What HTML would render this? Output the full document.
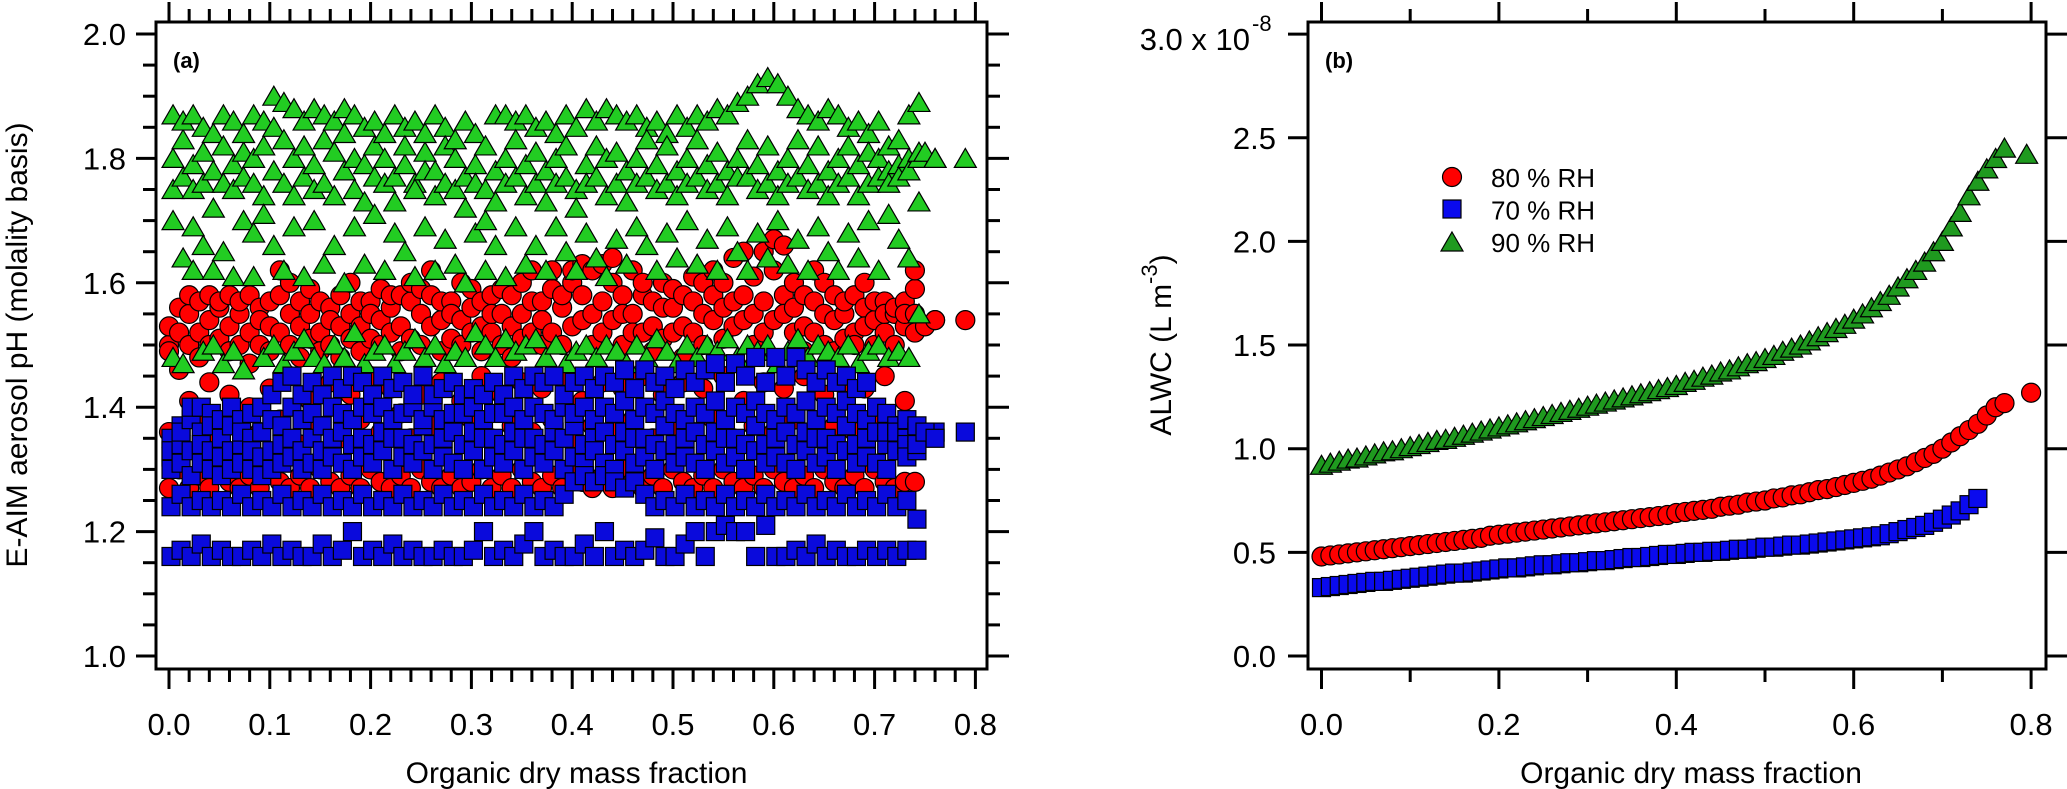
<!DOCTYPE html>
<html><head><meta charset="utf-8"><style>
html,body{margin:0;padding:0;background:#fff;}
svg{display:block;font-family:"Liberation Sans",Arial,sans-serif;}
</style></head><body>
<svg id="fig" width="2067" height="789" viewBox="0 0 2067 789" xmlns="http://www.w3.org/2000/svg">
<g id="pa"></g>
<g id="pb"></g>
</svg>
<script>
// ---------- Panel (a) data: per x-column (step 0.01) lists of pH values ----------
const aXStep = 0.01;
const aGreen = [
[1.75,1.8,1.87,1.7,1.48],[1.77,1.83,1.86,1.64,1.47],[1.79,1.75,1.87,1.69,1.62],[1.81,1.76,1.85,1.66,1.49],[1.78,1.84,1.72,1.62,1.5],
[1.76,1.82,1.87,1.65,1.47],[1.79,1.75,1.86,1.61,1.49],[1.81,1.77,1.84,1.7,1.46],[1.76,1.8,1.87,1.68,1.61],[1.74,1.82,1.86,1.71,1.48],
[1.78,1.9,1.85,1.66,1.5],[1.76,1.89,1.83,1.62,1.47],[1.8,1.88,1.74,1.69,1.49],[1.77,1.86,1.82,1.61,1.51],[1.79,1.88,1.75,1.7,1.48],
[1.76,1.87,1.83,1.63,1.47],[1.81,1.86,1.74,1.66,1.5],[1.78,1.84,1.88,1.6,1.48],[1.75,1.87,1.8,1.69,1.52],[1.79,1.85,1.73,1.63,1.47],
[1.77,1.86,1.82,1.71,1.49],[1.8,1.84,1.76,1.62,1.5],[1.77,1.87,1.73,1.68,1.47],[1.79,1.85,1.82,1.65,1.49],[1.76,1.86,1.75,1.61,1.51],
[1.81,1.84,1.78,1.69,1.48],[1.78,1.87,1.74,1.62,1.5],[1.76,1.85,1.82,1.67,1.47],[1.8,1.83,1.75,1.63,1.49],[1.77,1.86,1.72,1.6,1.48],
[1.79,1.84,1.76,1.68,1.52],[1.75,1.82,1.7,1.62,1.5],[1.78,1.87,1.73,1.66,1.48],[1.8,1.87,1.76,1.61,1.51],[1.77,1.86,1.83,1.69,1.49],
[1.79,1.87,1.74,1.63,1.5],[1.76,1.85,1.81,1.66,1.51],[1.78,1.86,1.73,1.62,1.48],[1.8,1.84,1.76,1.69,1.5],[1.77,1.87,1.82,1.65,1.47],
[1.75,1.85,1.72,1.62,1.49],[1.79,1.88,1.76,1.68,1.5],[1.77,1.86,1.82,1.64,1.48],[1.8,1.88,1.74,1.61,1.5],[1.76,1.87,1.81,1.67,1.49],
[1.78,1.86,1.73,1.63,1.47],[1.8,1.87,1.76,1.69,1.5],[1.77,1.85,1.83,1.66,1.48],[1.79,1.86,1.75,1.62,1.51],[1.76,1.84,1.82,1.68,1.49],
[1.78,1.87,1.74,1.64,1.47],[1.8,1.85,1.76,1.7,1.5],[1.77,1.87,1.83,1.63,1.48],[1.79,1.86,1.75,1.67,1.5],[1.76,1.88,1.81,1.62,1.49],
[1.78,1.87,1.74,1.69,1.51],[1.8,1.89,1.77,1.65,1.48],[1.77,1.9,1.83,1.62,1.5],[1.79,1.92,1.75,1.68,1.49],[1.76,1.93,1.82,1.64,1.5],
[1.78,1.92,1.74,1.7,1.47],[1.8,1.9,1.76,1.63,1.49],[1.77,1.88,1.83,1.67,1.51],[1.79,1.87,1.75,1.62,1.48],[1.76,1.86,1.82,1.69,1.5],
[1.78,1.88,1.74,1.65,1.49],[1.8,1.87,1.76,1.62,1.48],[1.77,1.85,1.82,1.68,1.5],[1.79,1.86,1.74,1.64,1.47],[1.76,1.84,1.81,1.7,1.49],
[1.8,1.86,1.77,1.62,1.5],[1.78,1.82,1.76,1.71,1.48],[1.79,1.77,1.83,1.67,1.49],[1.8,1.78,1.87,1.64,1.48],[1.8,1.81,1.89,1.73,1.55]
];
const aRed = [
[1.5,1.53,1.49,1.36,1.27],[1.52,1.56,1.46,1.33,1.3],[1.55,1.5,1.58,1.41,1.27],[1.57,1.52,1.48,1.38,1.29],[1.54,1.58,1.5,1.44,1.27],
[1.56,1.51,1.57,1.35,1.3],[1.58,1.53,1.49,1.42,1.28],[1.55,1.57,1.5,1.37,1.27],[1.52,1.58,1.47,1.4,1.29],[1.56,1.5,1.54,1.36,1.27],
[1.53,1.57,1.49,1.43,1.3],[1.58,1.52,1.62,1.38,1.28],[1.6,1.55,1.5,1.45,1.27],[1.57,1.53,1.48,1.34,1.29],[1.55,1.59,1.51,1.41,1.27],
[1.52,1.57,1.49,1.37,1.3],[1.56,1.5,1.54,1.44,1.28],[1.58,1.53,1.48,1.35,1.27],[1.55,1.6,1.51,1.42,1.29],[1.53,1.57,1.49,1.38,1.27],
[1.57,1.51,1.55,1.45,1.3],[1.59,1.54,1.5,1.36,1.28],[1.56,1.52,1.58,1.43,1.27],[1.53,1.58,1.49,1.39,1.29],[1.57,1.51,1.6,1.35,1.27],
[1.55,1.59,1.5,1.42,1.3],[1.58,1.53,1.62,1.37,1.28],[1.54,1.57,1.49,1.44,1.27],[1.57,1.51,1.55,1.36,1.29],[1.6,1.54,1.5,1.41,1.27],
[1.56,1.59,1.52,1.38,1.28],[1.53,1.57,1.49,1.45,1.3],[1.58,1.52,1.55,1.35,1.27],[1.55,1.59,1.5,1.42,1.29],[1.58,1.53,1.48,1.37,1.27],
[1.55,1.6,1.51,1.44,1.3],[1.52,1.57,1.62,1.36,1.28],[1.57,1.54,1.5,1.43,1.27],[1.59,1.52,1.62,1.38,1.29],[1.56,1.58,1.5,1.45,1.27],
[1.53,1.6,1.62,1.35,1.3],[1.58,1.54,1.63,1.41,1.28],[1.55,1.62,1.5,1.37,1.27],[1.57,1.52,1.63,1.44,1.29],[1.54,1.6,1.64,1.36,1.27],
[1.58,1.55,1.5,1.43,1.3],[1.55,1.62,1.52,1.38,1.28],[1.52,1.58,1.6,1.45,1.27],[1.57,1.53,1.49,1.35,1.29],[1.6,1.56,1.51,1.42,1.27],
[1.56,1.59,1.52,1.37,1.3],[1.53,1.58,1.48,1.44,1.28],[1.57,1.52,1.61,1.36,1.27],[1.55,1.6,1.5,1.43,1.29],[1.58,1.54,1.62,1.38,1.27],
[1.56,1.6,1.51,1.45,1.3],[1.53,1.57,1.64,1.35,1.28],[1.58,1.54,1.65,1.41,1.27],[1.55,1.61,1.5,1.37,1.29],[1.57,1.52,1.65,1.44,1.27],
[1.54,1.62,1.67,1.36,1.3],[1.58,1.55,1.66,1.43,1.28],[1.56,1.6,1.52,1.38,1.27],[1.53,1.58,1.49,1.45,1.29],[1.57,1.52,1.62,1.35,1.27],
[1.55,1.6,1.5,1.42,1.3],[1.58,1.54,1.49,1.37,1.28],[1.55,1.57,1.51,1.44,1.27],[1.52,1.58,1.5,1.36,1.29],[1.56,1.53,1.6,1.43,1.27],
[1.54,1.57,1.5,1.38,1.3],[1.57,1.52,1.55,1.45,1.28],[1.55,1.56,1.5,1.37,1.27],[1.53,1.57,1.55,1.41,1.28],[1.55,1.59,1.62,1.52,1.28]
];
const aBlue = [
[1.32,1.35,1.3,1.33,1.16,1.24],[1.34,1.37,1.31,1.36,1.17,1.26],[1.38,1.33,1.4,1.29,1.16,1.24],[1.36,1.31,1.4,1.34,1.18,1.25],[1.39,1.33,1.3,1.37,1.16,1.24],
[1.35,1.38,1.32,1.29,1.17,1.25],[1.37,1.33,1.4,1.3,1.16,1.24],[1.34,1.38,1.31,1.36,1.16,1.26],[1.39,1.35,1.3,1.33,1.17,1.24],[1.36,1.32,1.4,1.29,1.16,1.25],
[1.33,1.38,1.3,1.42,1.18,1.24],[1.37,1.34,1.44,1.31,1.16,1.26],[1.4,1.35,1.32,1.45,1.17,1.24],[1.38,1.33,1.42,1.3,1.16,1.25],[1.35,1.39,1.31,1.44,1.16,1.24],
[1.37,1.33,1.42,1.3,1.18,1.26],[1.4,1.35,1.45,1.32,1.16,1.24],[1.36,1.39,1.31,1.43,1.17,1.25],[1.38,1.34,1.45,1.3,1.2,1.24],[1.35,1.4,1.32,1.44,1.16,1.26],
[1.39,1.34,1.42,1.31,1.17,1.24],[1.36,1.4,1.33,1.45,1.16,1.25],[1.38,1.35,1.43,1.3,1.18,1.24],[1.35,1.39,1.32,1.44,1.16,1.26],[1.4,1.34,1.42,1.31,1.17,1.24],
[1.37,1.38,1.33,1.45,1.16,1.25],[1.34,1.4,1.42,1.3,1.16,1.24],[1.38,1.35,1.43,1.32,1.17,1.26],[1.36,1.39,1.31,1.44,1.16,1.24],[1.39,1.34,1.42,1.3,1.16,1.25],
[1.36,1.4,1.33,1.43,1.17,1.24],[1.38,1.35,1.3,1.42,1.2,1.26],[1.35,1.39,1.32,1.44,1.16,1.24],[1.39,1.34,1.42,1.31,1.17,1.25],[1.36,1.4,1.33,1.45,1.16,1.24],
[1.38,1.35,1.43,1.3,1.18,1.26],[1.35,1.4,1.32,1.45,1.2,1.24],[1.39,1.34,1.44,1.31,1.16,1.25],[1.36,1.38,1.33,1.45,1.17,1.24],[1.4,1.35,1.42,1.3,1.16,1.26],
[1.37,1.39,1.32,1.44,1.16,1.28],[1.34,1.4,1.45,1.31,1.18,1.29],[1.38,1.35,1.43,1.33,1.16,1.28],[1.36,1.4,1.31,1.45,1.2,1.29],[1.39,1.34,1.44,1.3,1.16,1.28],
[1.36,1.41,1.33,1.46,1.17,1.27],[1.38,1.35,1.43,1.31,1.16,1.28],[1.35,1.4,1.32,1.46,1.17,1.26],[1.39,1.34,1.44,1.3,1.19,1.24],[1.37,1.41,1.33,1.45,1.16,1.25],
[1.34,1.39,1.43,1.31,1.16,1.24],[1.38,1.35,1.46,1.32,1.18,1.26],[1.36,1.4,1.31,1.44,1.2,1.24],[1.39,1.34,1.46,1.3,1.16,1.25],[1.36,1.41,1.33,1.47,1.2,1.24],
[1.38,1.35,1.44,1.31,1.21,1.26],[1.35,1.4,1.32,1.47,1.2,1.24],[1.39,1.34,1.45,1.3,1.2,1.25],[1.37,1.41,1.33,1.48,1.16,1.24],[1.34,1.39,1.44,1.31,1.21,1.26],
[1.38,1.35,1.48,1.32,1.16,1.24],[1.36,1.4,1.31,1.45,1.16,1.25],[1.39,1.34,1.48,1.3,1.17,1.24],[1.36,1.41,1.33,1.46,1.16,1.26],[1.38,1.35,1.44,1.31,1.18,1.24],
[1.35,1.4,1.32,1.46,1.16,1.25],[1.39,1.34,1.44,1.3,1.17,1.24],[1.37,1.41,1.33,1.45,1.16,1.26],[1.34,1.39,1.43,1.31,1.16,1.24],[1.38,1.35,1.44,1.32,1.17,1.25],
[1.36,1.4,1.31,1.36,1.16,1.24],[1.39,1.34,1.36,1.3,1.17,1.26],[1.36,1.37,1.33,1.36,1.16,1.24],[1.38,1.35,1.34,1.32,1.17,1.25],[1.36,1.37,1.33,1.34,1.17,1.22]
];
const aExtraX = [0.76,0.79,0.75,0.76];
const aExtraGreen = [1.8,1.8,1.81,1.8];
const aExtraRed = [1.54,1.54,1.53,1.54];
const aExtraBlue = [1.36,1.36,1.36,1.35];
const aXTicks = ["0.0","0.1","0.2","0.3","0.4","0.5","0.6","0.7","0.8"];
const aYTicks = ["1.0","1.2","1.4","1.6","1.8","2.0"];

// ---------- Panel (b) data ----------
const bGreenX = [];
const bGreenY = [0.92,0.93,0.94,0.95,0.955,0.965,0.975,0.985,0.99,1.0,1.01,1.02,1.03,1.04,1.045,1.055,1.065,1.075,1.085,1.095,1.105,1.115,1.125,1.135,1.145,1.155,1.165,1.175,1.185,1.195,1.205,1.215,1.225,1.235,1.245,1.255,1.265,1.275,1.285,1.295,1.305,1.32,1.33,1.345,1.355,1.37,1.38,1.395,1.41,1.42,1.435,1.45,1.47,1.485,1.5,1.52,1.54,1.56,1.58,1.6,1.625,1.65,1.68,1.71,1.74,1.78,1.82,1.86,1.9,1.95,2.0,2.07,2.14,2.22,2.29,2.35,2.4,2.45];
const bRedY = [0.48,0.485,0.49,0.495,0.5,0.505,0.51,0.515,0.52,0.525,0.53,0.535,0.54,0.545,0.55,0.555,0.56,0.565,0.57,0.58,0.585,0.59,0.595,0.6,0.605,0.61,0.615,0.62,0.625,0.63,0.635,0.64,0.645,0.65,0.655,0.66,0.665,0.67,0.675,0.68,0.69,0.695,0.7,0.705,0.71,0.72,0.725,0.73,0.74,0.745,0.75,0.76,0.765,0.775,0.78,0.79,0.8,0.805,0.815,0.825,0.835,0.845,0.855,0.87,0.885,0.9,0.915,0.935,0.955,0.975,1.0,1.03,1.06,1.09,1.12,1.16,1.2];
const bBlueY = [0.33,0.335,0.34,0.345,0.35,0.355,0.36,0.36,0.365,0.37,0.375,0.38,0.385,0.39,0.395,0.4,0.4,0.405,0.41,0.415,0.42,0.425,0.425,0.43,0.435,0.44,0.44,0.445,0.45,0.45,0.455,0.46,0.46,0.465,0.47,0.475,0.475,0.48,0.485,0.49,0.49,0.495,0.5,0.5,0.505,0.505,0.51,0.515,0.515,0.52,0.525,0.525,0.53,0.535,0.535,0.54,0.545,0.55,0.555,0.56,0.565,0.57,0.575,0.58,0.59,0.6,0.61,0.62,0.63,0.645,0.66,0.68,0.7,0.73,0.76];
const bExtraGreenX = [0.795], bExtraGreenY = [2.42];
const bExtraRedX = [0.77,0.8], bExtraRedY = [1.22,1.27];
const bXTicks = ["0.0","0.2","0.4","0.6","0.8"];
const bYTicks = ["0.0","0.5","1.0","1.5","2.0","2.5"];
const legendLabels = ["80 % RH","70 % RH","90 % RH"];

const NS="http://www.w3.org/2000/svg";
function mk(tag,attrs,parent){const e=document.createElementNS(NS,tag);for(const k in attrs)e.setAttribute(k,attrs[k]);parent.appendChild(e);return e;}

// axis functions
const ax = v => 169 + (v/0.1)*100.8;
const ay = v => 656 - (v-1.0)*622;
const bx = v => 1321.5 + v*887;
const by = v => 656 - v*207.3;

function circle(g,x,y,fill,name){const e=mk('circle',{cx:x,cy:y,r:9.5,fill:fill,stroke:'#000','stroke-width':1.2},g);

}
function square(g,x,y,fill,name){const e=mk('rect',{x:x-9,y:y-9,width:18,height:18,fill:fill,stroke:'#000','stroke-width':1.2},g);

}
function tri(g,x,y,fill,name){const e=mk('polygon',{points:`${x},${y-10} ${x+11},${y+9} ${x-11},${y+9}`,fill:fill,stroke:'#000','stroke-width':1.2},g);

}
function line(g,x1,y1,x2,y2,w){mk('line',{x1,y1,x2,y2,stroke:'#000','stroke-width':w||3},g);}
function text(g,x,y,s,size,anchor,name,weight){const e=mk('text',{x,y,'font-size':size,'text-anchor':anchor||'middle',fill:'#000'},g);if(weight)e.setAttribute('font-weight',weight);e.textContent=s;

return e;}

// ---------- Panel A ----------
const pa=document.getElementById('pa');
const aL=156,aR=987,aT=22,aB=669;
mk('clipPath',{id:'ca'},pa).appendChild(document.createElementNS(NS,'rect'));
const caR=document.querySelector('#ca rect');caR.setAttribute('x',aL);caR.setAttribute('y',aT);caR.setAttribute('width',aR-aL);caR.setAttribute('height',aB-aT);
const aPts=mk('g',{'clip-path':'url(#ca)'},pa);


aRed.forEach((col,i)=>col.forEach(v=>circle(aPts,ax(i*aXStep),ay(v),'#ff0000','point-80rh')));
aExtraX.forEach((x,i)=>circle(aPts,ax(x),ay(aExtraRed[i]),'#ff0000','point-80rh'));
aGreen.forEach((col,i)=>col.forEach(v=>tri(aPts,ax(i*aXStep+0.004),ay(v),'#22cc22','point-90rh')));
aExtraX.forEach((x,i)=>tri(aPts,ax(x),ay(aExtraGreen[i]),'#22cc22','point-90rh'));
aBlue.forEach((col,i)=>col.forEach(v=>square(aPts,ax(i*aXStep+0.002),ay(v),'#0a0adc','point-70rh')));
aExtraX.forEach((x,i)=>square(aPts,ax(x),ay(aExtraBlue[i]),'#0a0adc','point-70rh'));
// frame
const fa=mk('rect',{x:aL,y:aT,width:aR-aL,height:aB-aT,fill:'none',stroke:'#000','stroke-width':3},pa);

// x ticks
for(let k=0;k<=40;k++){const v=k*0.02;const x=ax(v);const major=(k%5===0);
 line(pa,x,aB,x,aB+(major?20:13));line(pa,x,aT,x,aT-(major?20:13));}
aXTicks.forEach((s,i)=>text(pa,ax(i*0.1),735,s,31,'middle','x-tick-label-a'));
for(let k=0;k<=20;k++){const v=1+k*0.05;const y=ay(v);const major=(k%4===0);
 line(pa,aL,y,aL-(major?20:13),y);line(pa,aR,y,aR+(major?22:13),y);}
aYTicks.forEach((s,i)=>text(pa,126,ay(1+i*0.2)+11,s,31,'end','y-tick-label-a'));
text(pa,(aL+aR)/2+5,783,'Organic dry mass fraction',30,'middle','x-axis-title-a');
const yta=text(pa,0,0,'E-AIM aerosol pH (molality basis)',30,'middle','y-axis-title-a');
yta.setAttribute('transform','translate(27,345) rotate(-90)');
text(pa,173,68,'(a)',22,'start','panel-label-a','bold');

// ---------- Panel B ----------
const pb=document.getElementById('pb');
const bL=1308,bR=2046,bT=22,bB=669;
for(let i=0;i<bGreenY.length;i++)bGreenX.push(i*0.01);
const bPts=mk('g',{},pb);


bGreenY.forEach((v,i)=>tri(bPts,bx(i*0.01),by(v),'#1f9a1f','point-90rh'));
bExtraGreenX.forEach((x,i)=>tri(bPts,bx(x),by(bExtraGreenY[i]),'#1f9a1f','point-90rh'));
bRedY.forEach((v,i)=>circle(bPts,bx(i*0.01),by(v),'#ff0000','point-80rh'));
bExtraRedX.forEach((x,i)=>circle(bPts,bx(x),by(bExtraRedY[i]),'#ff0000','point-80rh'));
bBlueY.forEach((v,i)=>square(bPts,bx(i*0.01),by(v),'#0a0aee','point-70rh'));
const fb=mk('rect',{x:bL,y:bT,width:bR-bL,height:bB-bT,fill:'none',stroke:'#000','stroke-width':3},pb);

for(let k=0;k<=8;k++){const x=bx(k*0.1);const major=(k%2===0);
 line(pb,x,bB,x,bB+(major?20:13));line(pb,x,bT,x,bT-(major?20:13));}
bXTicks.forEach((s,i)=>text(pb,bx(i*0.2),735,s,31,'middle','x-tick-label-b'));
for(let k=0;k<=6;k++){const y=by(k*0.5);line(pb,bL,y,bL-20,y);line(pb,bR,y,bR+21,y);}
bYTicks.forEach((s,i)=>text(pb,1276,by(i*0.5)+11,s,31,'end','y-tick-label-b'));
const t30=text(pb,1250,50,'3.0 x 10',31,'end','y-axis-multiplier');
text(pb,1252,31,'-8',22,'start','y-axis-multiplier-exponent');
text(pb,1691,783,'Organic dry mass fraction',30,'middle','x-axis-title-b');
const ytb=mk('text',{'font-size':30,'text-anchor':'middle',transform:'translate(1171,345) rotate(-90)'},pb);

ytb.innerHTML='ALWC (L m<tspan dy="-14" font-size="22">-3</tspan><tspan dy="14">)</tspan>';
text(pb,1325,68,'(b)',22,'start','panel-label-b','bold');
// legend
const lg=mk('g',{},pb);
circle(lg,1452,177,'#ff0000','legend-marker-80rh');
square(lg,1452,209,'#0a0aee','legend-marker-70rh');
tri(lg,1452,242,'#1f9a1f','legend-marker-90rh');
legendLabels.forEach((s,i)=>text(lg,1491,187+i*32.5,s,26,'start','legend-entry'));
</script>
</body></html>
